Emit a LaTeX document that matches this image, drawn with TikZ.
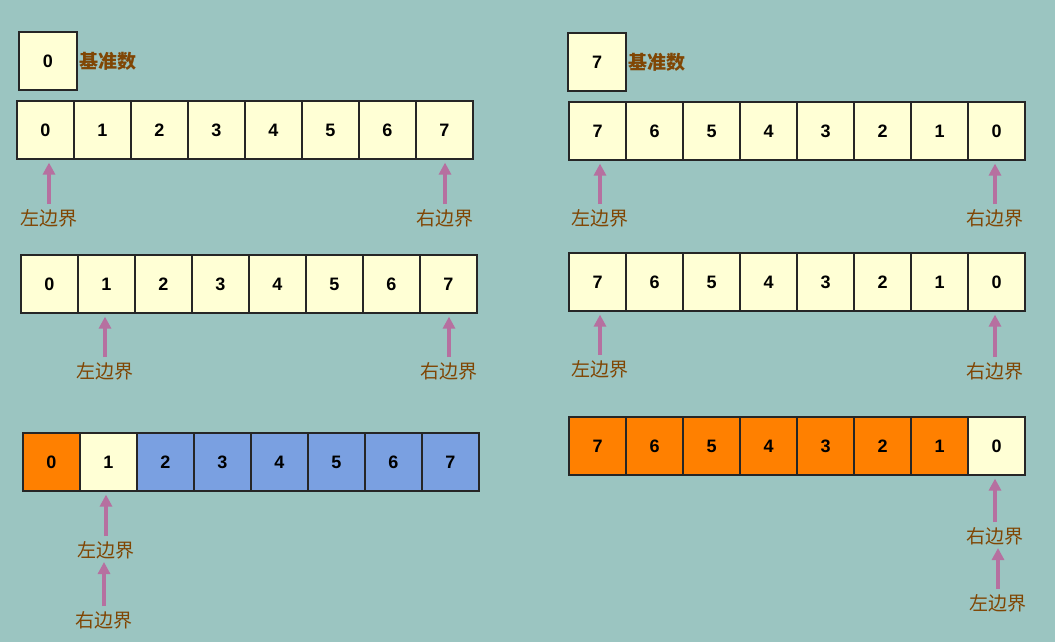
\documentclass[tikz,border=0pt]{standalone}
\usepackage{fontspec}
\setmainfont{Liberation Sans}
\newfontfamily\cjk{Noto Sans CJK SC}
\usetikzlibrary{arrows.meta}
\definecolor{bgteal}{RGB}{155,197,193}
\definecolor{cellyellow}{RGB}{255,255,213}
\definecolor{cellorange}{RGB}{255,128,0}
\definecolor{cellblue}{RGB}{122,160,225}
\definecolor{lblbrown}{RGB}{128,70,4}
\definecolor{ptrmauve}{RGB}{182,112,160}

\begin{document}
\begin{tikzpicture}[x=1pt,y=-1pt,
    cell/.style={draw=black!85,line width=1.2pt,fill=cellyellow,minimum width=57pt,minimum height=58pt,inner sep=0pt,font=\fontsize{18}{18}\selectfont\bfseries},
    lbl/.style={text=lblbrown,font=\cjk\fontsize{19}{19}\selectfont,inner sep=0pt},
    ptr/.style={draw=ptrmauve,line width=3.4pt,-{Triangle[length=12pt,width=12pt]},shorten <=5pt,shorten >=3pt}]
  \useasboundingbox[fill=bgteal] (0,0) rectangle (1055,642);

  % left: pivot 0, ascending keys
  \node[cell,minimum width=58pt] (lp) at (48,61) {0};
  \node[lbl,font=\cjk\bfseries\fontsize{19}{19}\selectfont,anchor=west] (lpt) at ([xshift=2pt]lp.east) {基准数};
  \foreach \v [count=\i from 0] in {0,...,7}
    \node[cell] (a-\i) at (45.5+57*\i,130) {\v};
  \foreach \v [count=\i from 0] in {0,...,7}
    \node[cell] (b-\i) at (49.5+57*\i,284) {\v};
  \foreach \v/\c [count=\i from 0] in {0/cellorange,1/cellyellow,2/cellblue,3/cellblue,4/cellblue,5/cellblue,6/cellblue,7/cellblue}
    \node[cell,fill=\c] (c-\i) at (51.5+57*\i,462) {\v};

  \node[lbl] (al) at (49,218) {左边界};
  \node[lbl] (ar) at (445,218) {右边界};
  \node[lbl] (bl) at (105,371) {左边界};
  \node[lbl] (br) at (449,371) {右边界};
  \node[lbl] (cl) at (106,550) {左边界};
  \node[lbl] (cr) at (104,620) {右边界};
  \draw[ptr] (al.north) -- (al.north |- a-0.south);
  \draw[ptr] (ar.north) -- (ar.north |- a-7.south);
  \draw[ptr] (bl.north) -- (bl.north |- b-1.south);
  \draw[ptr] (br.north) -- (br.north |- b-7.south);
  \draw[ptr] (cl.north) -- (cl.north |- c-1.south);
  \draw[ptr] (cr.north) -- (cr.north |- cl.south);

  % right: pivot 7, descending keys
  \node[cell,minimum width=58pt] (rp) at (597,62) {7};
  \node[lbl,font=\cjk\bfseries\fontsize{19}{19}\selectfont,anchor=west] (rpt) at ([xshift=2pt]rp.east) {基准数};
  \foreach \v [count=\i from 0] in {7,6,...,0}
    \node[cell] (d-\i) at (597.5+57*\i,131) {\v};
  \foreach \v [count=\i from 0] in {7,6,...,0}
    \node[cell] (e-\i) at (597.5+57*\i,282) {\v};
  \foreach \v/\c [count=\i from 0] in {7/cellorange,6/cellorange,5/cellorange,4/cellorange,3/cellorange,2/cellorange,1/cellorange,0/cellyellow}
    \node[cell,fill=\c] (f-\i) at (597.5+57*\i,446) {\v};

  \node[lbl] (dl) at (600,218) {左边界};
  \node[lbl] (dr) at (995,218) {右边界};
  \node[lbl] (el) at (600,369) {左边界};
  \node[lbl] (er) at (995,371) {右边界};
  \node[lbl] (fr) at (995,536) {右边界};
  \node[lbl] (fl) at (998,603) {左边界};
  \draw[ptr] (dl.north) -- (dl.north |- d-0.south);
  \draw[ptr] (dr.north) -- (dr.north |- d-7.south);
  \draw[ptr] (el.north) -- (el.north |- e-0.south);
  \draw[ptr] (er.north) -- (er.north |- e-7.south);
  \draw[ptr] (fr.north) -- (fr.north |- f-7.south);
  \draw[ptr] (fl.north) -- (fl.north |- fr.south);
\end{tikzpicture}
\end{document}
